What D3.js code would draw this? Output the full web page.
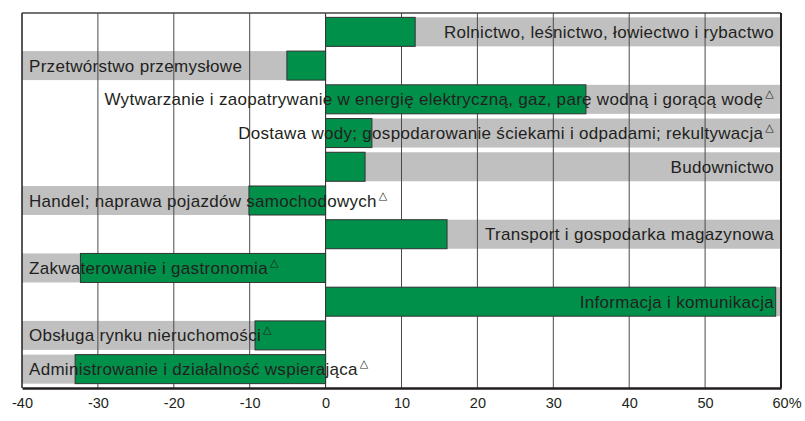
<!DOCTYPE html>
<html>
<head>
<meta charset="utf-8">
<script src="https://cdn.jsdelivr.net/npm/d3@7"></script>
<style>
  body { margin: 0; background: #fff; }
  svg { display: block; }
  .label { font-family: "Liberation Sans", Arial, sans-serif; font-size: 17px; letter-spacing: 0.3px; fill: #231f20; }
  .sup { font-family: "DejaVu Sans", sans-serif; font-size: 11px; }
  .tick text { font-family: "Liberation Sans", Arial, sans-serif; font-size: 14.5px; fill: #231f20; }
</style>
</head>
<body>
<svg id="chart"></svg>
<script>
// sectors, top to bottom
var categories = [
  "Rolnictwo, leśnictwo, łowiectwo i rybactwo",
  "Przetwórstwo przemysłowe",
  "Wytwarzanie i zaopatrywanie w energię elektryczną, gaz, parę wodną i gorącą wodę",
  "Dostawa wody; gospodarowanie ściekami i odpadami; rekultywacja",
  "Budownictwo",
  "Handel; naprawa pojazdów samochodowych",
  "Transport i gospodarka magazynowa",
  "Zakwaterowanie i gastronomia",
  "Informacja i komunikacja",
  "Obsługa rynku nieruchomości",
  "Administrowanie i działalność wspierająca"
];
var values = [11.8, -5.1, 34.3, 6.1, 5.2, -10.1, 16.0, -32.3, 59.3, -9.3, -33.0];
var marked = [false, false, true, true, false, true, false, true, false, true, true];
var ticks = [-40, -30, -20, -10, 0, 10, 20, 30, 40, 50, 60];

var width = 805, height = 421;
var svg = d3.select("svg#chart").attr("width", width).attr("height", height);

var x = d3.scaleLinear().domain([-40, 60]).range([22, 781]);
var y = d3.scaleBand().domain(categories).range([15, 386])
    .paddingInner(0.14).paddingOuter(0.07);

var rows = categories.map(function (c, i) {
  return {name: c, value: values[i], mark: marked[i]};
});

// grey band on the side of the bar
svg.selectAll("rect.band")
  .data(rows)
  .enter().append("rect")
  .attr("class", "band")
  .attr("x", function (d) { return d.value >= 0 ? x(0) : x(-40); })
  .attr("width", function (d) { return d.value >= 0 ? x(60) - x(0) : x(0) - x(-40); })
  .attr("y", function (d) { return y(d.name); })
  .attr("height", y.bandwidth())
  .style("fill", "#c0c0c0");

// grid lines
svg.selectAll("line.grid")
  .data(ticks.filter(function (t) { return t > -40 && t < 60; }))
  .enter().append("line")
  .attr("class", "grid")
  .attr("x1", function (d) { return x(d); })
  .attr("x2", function (d) { return x(d); })
  .attr("y1", 13)
  .attr("y2", 388)
  .style("stroke", function (d) { return d === 0 ? "#231f20" : "#4a4a4a"; })
  .style("stroke-width", 1);

// bars
svg.selectAll("rect.bar")
  .data(rows)
  .enter().append("rect")
  .attr("class", "bar")
  .attr("x", function (d) { return x(Math.min(0, d.value)); })
  .attr("width", function (d) { return Math.abs(x(d.value) - x(0)); })
  .attr("y", function (d) { return y(d.name); })
  .attr("height", y.bandwidth())
  .style("fill", "#00904a")
  .style("stroke", "#333")
  .style("stroke-width", 1);

// frame
svg.append("line").attr("x1", 22).attr("x2", 781).attr("y1", 13).attr("y2", 13)
  .style("stroke", "#444").style("stroke-width", 1.5);
svg.append("line").attr("x1", 22).attr("x2", 22).attr("y1", 13).attr("y2", 388)
  .style("stroke", "#231f20").style("stroke-width", 1.5);
svg.append("line").attr("x1", 781).attr("x2", 781).attr("y1", 13).attr("y2", 388)
  .style("stroke", "#231f20").style("stroke-width", 2);

// labels
var labels = svg.selectAll("text.label")
  .data(rows)
  .enter().append("text")
  .attr("class", "label")
  .attr("x", function (d) { return d.value >= 0 ? 774 : 29; })
  .attr("y", function (d) { return y(d.name) + y.bandwidth() / 2 + 6; })
  .attr("text-anchor", function (d) { return d.value >= 0 ? "end" : "start"; });
labels.append("tspan").text(function (d) { return d.name; });
labels.filter(function (d) { return d.mark; })
  .append("tspan")
  .attr("class", "sup")
  .attr("dx", 2)
  .attr("dy", -8)
  .text("\u25B3");

// x axis
var axis = svg.append("g")
  .attr("transform", "translate(0,388)")
  .call(d3.axisBottom(x).tickValues(ticks).tickSize(0).tickPadding(10)
    .tickFormat(function (d) { return d; }));
axis.select(".domain").style("stroke", "#231f20").style("stroke-width", 2.5);
axis.selectAll(".tick text")
  .filter(function (d) { return d === 60; })
  .attr("text-anchor", "start")
  .attr("x", -9)
  .text("60%");
</script>
</body>
</html>
